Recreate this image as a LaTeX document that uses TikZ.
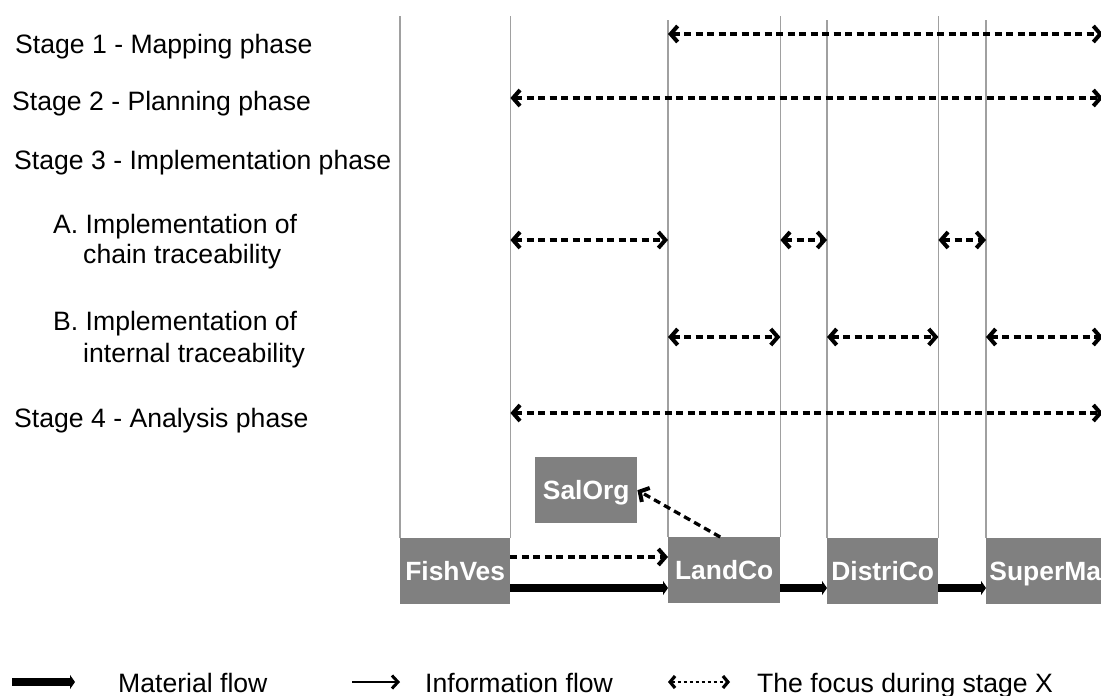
\documentclass[tikz,border=0pt]{standalone}
\usepackage{fontspec}
\setmainfont{Liberation Sans}
\usetikzlibrary{arrows.meta}
\definecolor{boxgray}{RGB}{128,128,128}
\definecolor{guidegray}{RGB}{160,160,160}
\begin{document}
\begin{tikzpicture}[x=1pt,y=-1pt,
  lbl/.style={anchor=base west, inner sep=0pt, font=\fontsize{26.6}{30}\selectfont},
  actor/.style={fill=boxgray, text=white, font=\fontsize{26.4}{30}\selectfont\bfseries,
    minimum height=66pt, inner sep=0pt, text height=19pt, text depth=0pt, anchor=north west},
  guide/.style={draw=guidegray, line width=1.6pt},
  focus/.style={line width=3.3pt, dash pattern=on 7pt off 4.5pt,
    >={Straight Barb[length=7pt,width=16pt,line width=4pt]}},
  material/.style={line width=7.5pt, -{Triangle[length=5pt,width=14pt]}},
  info/.style={line width=2.6pt, -{Straight Barb[length=6pt,width=13pt,line width=3pt]}}
]
\useasboundingbox (0,0) rectangle (1101,696);
\clip (0,0) rectangle (1101,696);

% chain actors
\node[actor, minimum width=110pt] (fish)  at (400,538) {FishVes};
\node[actor, minimum width=112pt] (land)  at (668,537) {LandCo};
\node[actor, minimum width=111pt] (distr) at (827,538) {DistriCo};
\node[actor, minimum width=118pt] (super) at (986,538) {SuperMa};
\node[actor, minimum width=102pt] (sal)   at (535,457) {SalOrg};

% reference heights and the right edge
\coordinate (topA) at (0,16);
\coordinate (topB) at (0,20);
\coordinate (r1) at (0,34);
\coordinate (r2) at (0,98);
\coordinate (r3) at (0,240);
\coordinate (r4) at (0,337);
\coordinate (r5) at (0,413);
\coordinate (rinfo) at (0,557);
\coordinate (rmat) at (0,588);
\coordinate (edge) at (1103,0);

% vertical guides above the actors
\draw[guide] (fish.north west) -- (fish.north west |- topA);
\draw[guide] (fish.north east) -- (fish.north east |- topA);
\draw[guide] (land.north west) -- (land.north west |- topB);
\draw[guide] (land.north east) -- (land.north east |- topA);
\draw[guide] (distr.north west) -- (distr.north west |- topB);
\draw[guide] (distr.north east) -- (distr.north east |- topA);
\draw[guide] (super.north west) -- (super.north west |- topB);

% stage labels
\node[lbl] (s1)  at (15,53)  {Stage 1 - Mapping phase};
\node[lbl] (s2)  at (12,110) {Stage 2 - Planning phase};
\node[lbl] (s3)  at (14,169) {Stage 3 - Implementation phase};
\node[lbl] (s3a) at (53,233) {A. Implementation of};
\node[lbl] (s3a2) at (83,263) {chain traceability};
\node[lbl] (s3b) at (53,330) {B. Implementation of};
\node[lbl] (s3b2) at (83,362) {internal traceability};
\node[lbl] (s4)  at (14,427) {Stage 4 - Analysis phase};

% focus per stage
\draw[focus,<->] (land.north west |- r1) -- (edge |- r1);
\draw[focus,<->] (fish.north east |- r2) -- (edge |- r2);
\draw[focus,<->] (fish.north east |- r3) -- (land.north west |- r3);
\draw[focus,<->] (land.north east |- r3) -- (distr.north west |- r3);
\draw[focus,<->] (distr.north east |- r3) -- (super.north west |- r3);
\draw[focus,<->] (land.north west |- r4) -- (land.north east |- r4);
\draw[focus,<->] (distr.north west |- r4) -- (distr.north east |- r4);
\draw[focus,<->] (super.north west |- r4) -- (edge |- r4);
\draw[focus,<->] (fish.north east |- r5) -- (edge |- r5);

% information flows
\draw[focus,->] (fish.east |- rinfo) -- (land.west |- rinfo);
\draw[focus,->] ([xshift=-4pt]land.north) -- (sal.east);

% material flows
\draw[material] (fish.east |- rmat) -- (land.west |- rmat);
\draw[material] (land.east |- rmat) -- (distr.west |- rmat);
\draw[material] (distr.east |- rmat) -- (super.west |- rmat);

% legend
\coordinate (lm0) at (12,682);
\coordinate (lm1) at (75,682);
\coordinate (li0) at (352,682);
\coordinate (li1) at (400,682);
\coordinate (lf0) at (668,682);
\coordinate (lf1) at (730,682);
\draw[material] (lm0) -- (lm1);
\node[lbl] (lmt) at (118,692) {Material flow};
\draw[info] (li0) -- (li1);
\node[lbl] (lit) at (425,692) {Information flow};
\draw[focus,<->,line width=2.6pt,dash pattern=on 3pt off 3pt,
  >={Straight Barb[length=5pt,width=12pt,line width=3.2pt]}] (lf0) -- (lf1);
\node[lbl] (lft) at (757,692) {The focus during stage X};
\end{tikzpicture}
\end{document}
